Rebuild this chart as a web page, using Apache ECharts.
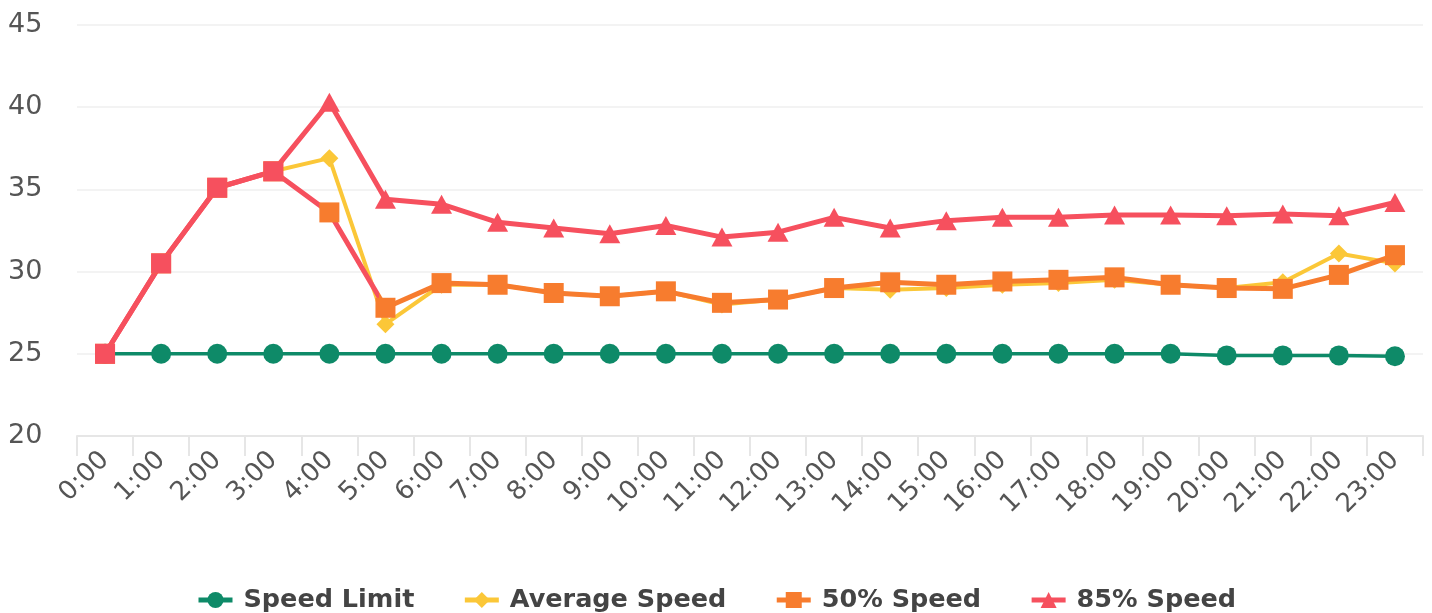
<!DOCTYPE html>
<html>
<head>
<meta charset="utf-8">
<script src="https://cdn.jsdelivr.net/npm/echarts@6/dist/echarts.min.js"></script>
<style>
html,body{margin:0;padding:0;background:#fff;}
#chart{width:1432px;height:613px;}
</style>
</head>
<body>
<div id="chart"></div>
<script>
var hours = ['0:00','1:00','2:00','3:00','4:00','5:00','6:00','7:00','8:00','9:00','10:00','11:00','12:00','13:00','14:00','15:00','16:00','17:00','18:00','19:00','20:00','21:00','22:00','23:00'];
var speedLimit = [25,25,25,25,25,25,25,25,25,25,25,25,25,25,25,25,25,25,25,25,24.9,24.9,24.9,24.85];
var avgSpeed = [25,30.5,35.1,36.1,36.9,26.8,29.2,29.2,28.7,28.5,28.8,28.0,28.3,29.0,28.9,29.0,29.2,29.3,29.5,29.2,29.0,29.35,31.1,30.5];
var speed50 = [25,30.5,35.1,36.1,33.6,27.8,29.3,29.2,28.7,28.5,28.8,28.1,28.3,29.0,29.35,29.2,29.4,29.5,29.65,29.2,29.0,28.95,29.8,31.0];
var speed85 = [25,30.5,35.1,36.1,40.3,34.4,34.1,33.0,32.65,32.3,32.8,32.1,32.4,33.3,32.65,33.1,33.3,33.3,33.45,33.45,33.4,33.5,33.4,34.2];
var yTicks = {min: 20, max: 45, interval: 5};

var GREEN = '#0e8a68', YELLOW = '#fbc738', ORANGE = '#f77c2e', RED = '#f6505e';
var split = 5 / (hours.length - 1);

// first points of the 85% series are drawn as squares in the reference
var speed85Data = speed85.map(function(v, i){
  return i < 4 ? {value: v, symbol: 'rect', symbolSize: 20} : v;
});

var chart = echarts.init(document.getElementById('chart'), null, {renderer: 'canvas'});
var option = {
  animation: false,
  backgroundColor: '#ffffff',
  grid: {left: 77, right: 9, top: 25, bottom: 177, containLabel: false},
  legend: {
    top: 582,
    left: 'center',
    itemWidth: 34,
    itemHeight: 20,
    itemGap: 48,
    textStyle: {fontFamily: 'DejaVu Sans', fontWeight: 'bold', fontSize: 25.5, color: '#444', padding: [0, 0, 0, 6]},
    lineStyle: {width: 5},
    data: [
      {name: 'Speed Limit'},
      {name: 'Average Speed'},
      {name: '50% Speed', lineStyle: {color: ORANGE}},
      {name: '85% Speed'}
    ]
  },
  xAxis: {
    type: 'category',
    data: hours,
    boundaryGap: true,
    axisLine: {show: true, lineStyle: {color: '#e6e6e6', width: 2}},
    axisTick: {show: true, length: 20, lineStyle: {color: '#e6e6e6', width: 2}},
    axisLabel: {rotate: 45, fontFamily: 'DejaVu Sans', fontSize: 26, color: '#555', margin: 20},
    splitLine: {show: false}
  },
  yAxis: {
    type: 'value',
    min: yTicks.min, max: yTicks.max, interval: yTicks.interval,
    axisLine: {show: false},
    axisTick: {show: false},
    axisLabel: {fontFamily: 'DejaVu Sans', fontSize: 27, color: '#555', margin: 69, align: 'left'},
    splitLine: {show: true, lineStyle: {color: '#f3f3f3', width: 2}}
  },
  series: [
    {
      name: 'Speed Limit', type: 'line', data: speedLimit,
      symbol: 'circle', symbolSize: 20,
      lineStyle: {color: GREEN, width: 3.5},
      itemStyle: {color: GREEN}
    },
    {
      name: 'Average Speed', type: 'line', data: avgSpeed,
      symbol: 'diamond', symbolSize: 18,
      lineStyle: {color: YELLOW, width: 4},
      itemStyle: {color: YELLOW}
    },
    {
      name: '50% Speed', type: 'line', data: speed50,
      symbol: 'rect', symbolSize: 20,
      lineStyle: {
        width: 5,
        color: new echarts.graphic.LinearGradient(0, 0, 1, 0, [
          {offset: 0, color: RED},
          {offset: split - 0.004, color: RED},
          {offset: split - 0.004, color: ORANGE},
          {offset: 1, color: ORANGE}
        ])
      },
      itemStyle: {color: ORANGE}
    },
    {
      name: '85% Speed', type: 'line', data: speed85Data,
      symbol: 'triangle',
      symbolSize: [21, 19],
      lineStyle: {color: RED, width: 5},
      itemStyle: {color: RED}
    }
  ]
};
chart.setOption(option);
</script>
</body>
</html>
